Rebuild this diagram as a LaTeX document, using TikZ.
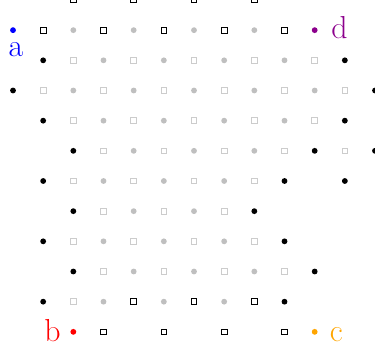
\documentclass[tikz,border=0pt]{standalone}
\usepackage{xcolor}
\definecolor{refpurple}{RGB}{140,0,140}
\definecolor{reforange}{RGB}{255,165,0}
\begin{document}
\begin{tikzpicture}[x=1cm,y=1cm,
  gdot/.style={circle,fill=gray!50,draw=none,inner sep=0pt,minimum size=5.5pt},
  gsq/.style={rectangle,draw=gray!40,line width=0.7pt,inner sep=0pt,minimum size=5.3pt},
  bdot/.style={circle,fill=black,draw=none,inner sep=0pt,minimum size=5.5pt},
  bsq/.style={rectangle,draw=black,line width=0.8pt,inner sep=0pt,minimum size=5.3pt},
  cdot/.style={circle,fill=#1,draw=none,inner sep=0pt,minimum size=5.5pt},
  lbl/.style={text=#1,anchor=base,inner sep=0pt,font=\fontsize{30}{36}\selectfont}]
\useasboundingbox (-0.431,-0.63) rectangle (12.0,11.0);
% grey interior
\foreach \j/\a/\b in {9/2/10,8/1/11,7/2/10,6/3/9,5/2/8,4/3/7,3/2/8,2/3/9}{
  \foreach \i in {\a,...,\b}{
    \pgfmathtruncatemacro\pty{mod(\i+\j,2)}
    \ifnum\pty=0 \node[gdot] (g\i-\j) at (\i,\j) {};
    \else \node[gsq] (g\i-\j) at (\i,\j) {};
    \fi
  }
}
\foreach \i/\j in {2/10,4/10,6/10,8/10,3/1,5/1,7/1}{\node[gdot] (g\i-\j) at (\i,\j) {};}
\foreach \i/\j in {11/6,2/1}{\node[gsq] (g\i-\j) at (\i,\j) {};}
% black squares
\foreach \i/\j in {2/11,4/11,6/11,8/11,1/10,3/10,5/10,7/10,9/10,4/1,6/1,8/1,3/0,5/0,7/0,9/0}{
  \node[bsq] (s\i-\j) at (\i,\j) {};}
% black dots
\foreach \i/\j in {1/9,11/9,0/8,12/8,1/7,11/7,2/6,10/6,12/6,1/5,9/5,11/5,2/4,8/4,1/3,9/3,2/2,10/2,1/1,9/1}{
  \node[bdot] (k\i-\j) at (\i,\j) {};}
% corners
\node[cdot=blue] (A) at (0,10) {};
\node[cdot=red] (B) at (2,0) {};
\node[cdot=reforange] (C) at (10,0) {};
\node[cdot=refpurple] (D) at (10,10) {};
\node[lbl=blue] (la) at (0.1,9.13) {a};
\node[lbl=red] (lb) at (1.31,-0.32) {b};
\node[lbl=reforange] (lc) at (10.72,-0.33) {c};
\node[lbl=refpurple] (ld) at (10.82,9.73) {d};
\end{tikzpicture}
\end{document}
